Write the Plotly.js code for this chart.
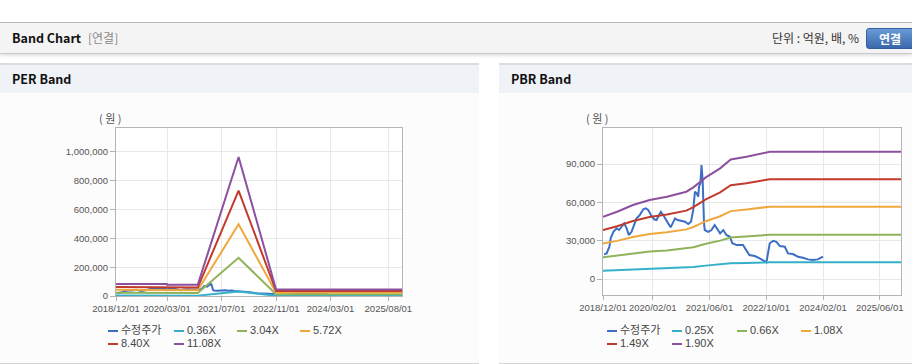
<!DOCTYPE html>
<html>
<head>
<meta charset="utf-8">
<script src="https://cdn.plot.ly/plotly-3.0.1.min.js"></script>
<style>
  html, body { margin:0; padding:0; width:912px; height:364px; overflow:hidden; background:#fff;
    font-family: Arial, "Liberation Sans", "Noto Sans CJK KR", sans-serif; }
  .abs { position:absolute; }
  #topbar { left:0; top:22px; width:912px; height:30px; background:#f4f4f4;
    border-top:1px solid #b8b8b8; border-bottom:1px solid #c8c8c8; box-shadow:0 2px 3px rgba(0,0,0,0.12); }
  .ttl { font-family:"Noto Sans CJK KR", sans-serif; font-weight:bold; font-size:12.5px; color:#111; }
  #t1 { left:12px; top:0; line-height:30px; }
  #t1b { left:88px; top:0; line-height:30px; font-family:"Noto Sans CJK KR", sans-serif; font-size:12px; color:#8a8a8a; }
  #unit { right:53px; top:0; line-height:30px; font-family:"Noto Sans CJK KR", sans-serif; font-size:12px; color:#333; }
  #btn { left:866px; top:5px; width:52px; height:19px; border-radius:3px;
    background:linear-gradient(#6a9ad6,#3a68ad); border:1px solid #335f9e;
    color:#fff; font-family:"Noto Sans CJK KR", sans-serif; font-weight:bold; font-size:12px;
    line-height:19px; text-align:left; text-indent:12px; }
  .panel { top:63px; height:298px; background:#fcfcfc; border-top:2px solid #dcdcdc; border-bottom:1px solid #d6d6d6; }
  .phead { left:0; top:0; right:0; height:28px; background:#eff2f7; }
  .phead span { position:absolute; left:12px; top:0; line-height:28px; }
  .leg { font-size:11px; color:#444; font-family: Arial, "Liberation Sans", "Noto Sans CJK KR", sans-serif; white-space:nowrap; }
  .leg i { position:absolute; width:10px; height:2px; top:7px; }
  .leg b { position:absolute; left:13px; top:0; font-weight:normal; line-height:14px; }
</style>
</head>
<body>
<div id="topbar" class="abs">
  <div id="t1" class="abs ttl">Band Chart</div>
  <div id="t1b" class="abs">[연결]</div>
  <div id="unit" class="abs">단위 : 억원, 배, %</div>
  <div id="btn" class="abs">연결</div>
</div>
<div id="pPer" class="abs panel" style="left:0;width:479px;">
  <div class="abs phead"><span class="ttl">PER Band</span></div>
</div>
<div id="pPbr" class="abs panel" style="left:499px;width:413px;">
  <div class="abs phead"><span class="ttl">PBR Band</span></div>
</div>
<div id="perChart" class="abs" style="left:0;top:93px;width:478px;height:268px;"></div>
<div id="pbrChart" class="abs" style="left:499px;top:93px;width:413px;height:268px;"></div>
<div id="perLegend"></div>
<div id="pbrLegend"></div>
<script>
// ---------- data ----------
const priceName = '수정주가';
const priceDates = ['2018-12-10','2019-01-01','2019-01-25','2019-02-05','2019-02-28','2019-03-28','2019-04-18','2019-05-10','2019-06-01','2019-06-22','2019-07-10','2019-08-03','2019-08-25','2019-09-15','2019-10-12','2019-11-12','2019-12-04','2019-12-25','2020-01-16','2020-02-12','2020-03-04','2020-03-28','2020-04-10','2020-05-01','2020-05-22','2020-06-12','2020-07-04','2020-07-25','2020-08-10','2020-09-01','2020-10-06','2020-11-04','2020-12-01','2020-12-25','2021-01-13','2021-01-28','2021-02-12','2021-02-25','2021-03-04','2021-03-16','2021-03-25','2021-04-04','2021-04-16','2021-04-22','2021-05-22','2021-06-19','2021-07-16','2021-08-06','2021-09-01','2021-09-28','2021-10-25','2021-11-24','2021-12-15','2022-01-21','2022-03-16','2022-05-10','2022-06-25','2022-08-06','2022-09-18','2022-10-03','2022-11-01','2022-12-01','2022-12-28','2023-01-27','2023-03-10','2023-04-06','2023-05-18','2023-07-01','2023-08-12','2023-09-25','2023-11-06','2023-12-18','2024-01-18','2024-02-01'];
const priceValues = [19300,20100,25300,31900,37000,39700,38400,41000,43600,39700,34500,37000,42300,47500,50100,54600,55400,54000,50100,46800,46200,50100,52700,50100,46200,43600,40500,44900,47500,46200,45700,44900,43100,44900,54000,68400,67100,64500,72300,75000,89300,77500,43600,38400,37000,38400,42300,39700,35800,38400,34500,33100,28000,26600,26600,18800,18000,16200,13600,13100,28000,30000,29200,25800,25300,20100,19600,17500,16700,15400,14900,15400,17000,17500];

const perNames = ['0.36X','3.04X','5.72X','8.40X','11.08X'];
const perDates = ['2018-12-01','2020-02-28','2020-03-01','2020-12-01','2021-12-01','2022-11-01','2025-12-01'];
const per036 = [2700,2700,2500,2500,31400,1500,1500];
const per304 = [22800,22800,21300,21300,264800,12500,12500];
const per572 = [42900,42900,40000,40000,498200,23500,23500];
const per840 = [63000,63000,58800,58800,731600,34500,34500];
const per1108 = [83100,83100,77600,77600,965000,45500,45500];

const pbrNames = ['0.25X','0.66X','1.08X','1.49X','1.90X'];
const pbrDates = ['2018-12-01','2019-04-01','2019-08-15','2020-01-05','2020-06-01','2020-11-15','2021-01-15','2021-05-01','2021-09-01','2021-12-01','2022-04-15','2022-11-01','2025-12-01'];
const pbr025 = [6400,6900,7600,8200,8500,9000,9500,10500,11400,12300,12600,13100,13100];
const pbr066 = [17000,18300,20100,21500,22400,23800,24900,27700,30100,32500,33300,34700,34700];
const pbr108 = [27800,29900,32900,35200,36600,38900,40800,45300,49200,53200,54400,56700,56700];
const pbr149 = [38300,41300,45400,48600,50500,53600,56300,62400,67900,73500,75100,78200,78200];
const pbr190 = [48800,52700,58000,61900,64500,68400,71800,79600,86700,93700,95800,99700,99700];

const perXTickVals = ['2018-12-01','2020-03-01','2021-07-01','2022-11-01','2024-03-01','2025-08-01'];
const perXTickText = ['2018/12/01','2020/03/01','2021/07/01','2022/11/01','2024/03/01','2025/08/01'];
const pbrXTickVals = ['2018-12-01','2020-02-01','2021-06-01','2022-10-01','2024-02-01','2025-06-01'];
const pbrXTickText = ['2018/12/01','2020/02/01','2021/06/01','2022/10/01','2024/02/01','2025/06/01'];
const perYTicks = [0,200000,400000,600000,800000,1000000];
const pbrYTicks = [0,30000,60000,90000];
const yUnit = '( 원 )';

// ---------- style ----------
const colors = ['#3c6fc3','#35b0c8','#90b35a','#f0a83c','#c23a2c','#8c509e'];
const xRange = ['2018-12-01','2025-12-01'];

function traces(bandNames, bandDates, bandSeries) {
  const t = [{x: priceDates, y: priceValues, name: priceName, type:'scatter', mode:'lines',
              line:{color:colors[0], width:2}}];
  bandSeries.forEach((s, i) => t.push({x: bandDates, y: s, name: bandNames[i], type:'scatter',
              mode:'lines', line:{color:colors[i+1], width:2}}));
  return t;
}

const tickFont = {family:'Arial, "Liberation Sans", sans-serif', size:9.5, color:'#555'};
function layout(m, w, h, xtv, xtt, ytv, yRange) {
  const pw = w - m.l - m.r, ph = h - m.t - m.b;
  return {
    width:w, height:h, margin:m, showlegend:false,
    paper_bgcolor:'rgba(0,0,0,0)', plot_bgcolor:'#ffffff',
    xaxis:{type:'date', range:xRange, tickvals:xtv, ticktext:xtt, tickfont:tickFont,
           showgrid:true, gridcolor:'#e8e8e8', showline:true, mirror:true, linecolor:'#b4b4b4',
           ticks:'outside', ticklen:4, tickcolor:'#b4b4b4', zeroline:false, fixedrange:true},
    yaxis:{range:yRange, tickvals:ytv, tickformat:',d', tickfont:tickFont,
           showgrid:true, gridcolor:'#e8e8e8', showline:true, mirror:true, linecolor:'#b4b4b4',
           ticks:'outside', ticklen:5, tickcolor:'#b4b4b4', zeroline:false, fixedrange:true},
    annotations:[{text:yUnit, xref:'paper', yref:'paper', x:-6/pw, y:1+10/ph,
                  showarrow:false, xanchor:'center', yanchor:'middle',
                  font:{family:'"Noto Sans CJK KR", sans-serif', size:11, color:'#555'}}]
  };
}

const cfg = {displayModeBar:false, staticPlot:true};
Plotly.newPlot('perChart', traces(perNames, perDates, [per036, per304, per572, per840, per1108]),
  layout({l:116, r:76, t:35, b:65}, 478, 268, perXTickVals, perXTickText, perYTicks, [0, 1166000]), cfg);
Plotly.newPlot('pbrChart', traces(pbrNames, pbrDates, [pbr025, pbr066, pbr108, pbr149, pbr190]),
  layout({l:104, r:11, t:35, b:66}, 413, 268, pbrXTickVals, pbrXTickText, pbrYTicks, [-12500, 118300]), cfg);

// ---------- legends ----------
function legend(id, names, cols, rowTops) {
  const el = document.getElementById(id);
  names.forEach((n, i) => {
    const d = document.createElement('div');
    d.className = 'abs leg';
    d.style.left = cols[i % 4] + 'px';
    d.style.top = rowTops[Math.floor(i / 4)] + 'px';
    d.innerHTML = '<i style="background:' + colors[i] + '"></i><b>' + n + '</b>';
    el.appendChild(d);
  });
}
legend('perLegend', [priceName].concat(perNames), [108,174,237,300], [323,336]);
legend('pbrLegend', [priceName].concat(pbrNames), [607,672,737,801], [323,336]);
</script>
</body>
</html>
